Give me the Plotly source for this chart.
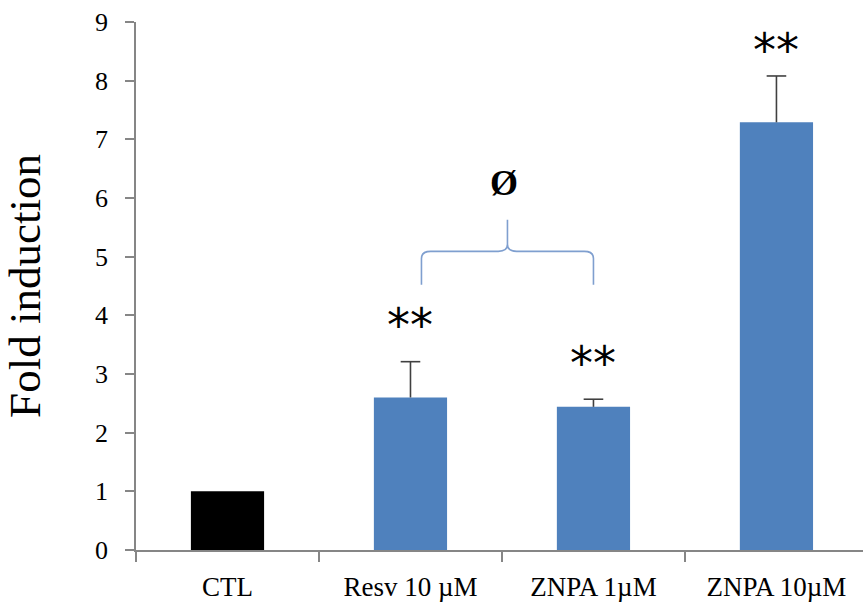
import plotly.graph_objects as go

# Treatment groups and measured fold induction (mean and upper SD)
categories = ["CTL", "Resv 10 µM", "ZNPA 1µM", "ZNPA 10µM"]
fold_induction = [1.0, 2.60, 2.44, 7.29]
error_upper = [0.0, 0.61, 0.13, 0.79]
significance = ["", "**", "**", "**"]

y_ticks = [0, 1, 2, 3, 4, 5, 6, 7, 8, 9]

# Layout helpers (heights where the significance marks sit)
sig_y = [None, 3.84, 3.19, 8.53]
bar_colors = ["#000000", "#4F81BD", "#4F81BD", "#4F81BD"]

serif = "Liberation Serif, Times New Roman, serif"
err_color = "#404040"

fig = go.Figure()
fig.add_trace(go.Bar(
    x=categories,
    y=fold_induction,
    marker=dict(color=bar_colors, line=dict(width=0)),
    width=0.4,
    showlegend=False,
    hoverinfo="x+y",
))

# Upper-only error bars: stem from bar top, cap at mean + SD
stem_x, stem_y, cap_x, cap_y = [], [], [], []
for cat, val, err in zip(categories, fold_induction, error_upper):
    if err > 0:
        stem_x += [cat, cat, None]
        stem_y += [val, val + err, None]
        cap_x.append(cat)
        cap_y.append(val + err)

fig.add_trace(go.Scatter(
    x=stem_x, y=stem_y, mode="lines",
    line=dict(color=err_color, width=1.6),
    showlegend=False, hoverinfo="skip",
))
fig.add_trace(go.Scatter(
    x=cap_x, y=cap_y, mode="markers",
    marker=dict(symbol="line-ew", size=14, line=dict(color=err_color, width=1.6)),
    showlegend=False, hoverinfo="skip",
))

# Significance asterisks above treated groups
for i, (label, yy) in enumerate(zip(significance, sig_y)):
    if label:
        fig.add_annotation(
            x=i, y=yy, text=label, showarrow=False,
            font=dict(family="DejaVu Sans", size=46, color="#000000"),
            yanchor="middle", xanchor="center",
        )

# Curly bracket comparing Resv 10 µM with ZNPA 1µM
i_left, i_right = 1, 2
xl = i_left + 0.06
xr = i_right
xm = (xl + xr) / 2
y_foot = 4.52
y_bar = 5.09
y_tip = 5.63
c = 0.05
path = (
    f"M {xl},{y_foot} L {xl},{y_bar - 0.12} "
    f"Q {xl},{y_bar} {xl + c},{y_bar} "
    f"L {xm - c},{y_bar} Q {xm},{y_bar} {xm},{y_bar + 0.12} "
    f"L {xm},{y_tip} M {xm},{y_bar + 0.12} "
    f"Q {xm},{y_bar} {xm + c},{y_bar} "
    f"L {xr - c},{y_bar} Q {xr},{y_bar} {xr},{y_bar - 0.12} "
    f"L {xr},{y_foot}"
)
fig.add_shape(type="path", path=path, xref="x", yref="y",
              line=dict(color="#7F9FCF", width=1.6))

fig.add_annotation(
    x=xm - 0.02, y=6.26, text="<b>Ø</b>", showarrow=False,
    font=dict(family=serif, size=36, color="#000000"),
    yanchor="middle", xanchor="center",
)

fig.update_layout(
    width=863, height=610,
    margin=dict(l=136, r=0, t=22, b=60),
    paper_bgcolor="white", plot_bgcolor="white",
    bargap=0.6,
    font=dict(family=serif, color="#000000"),
)

fig.update_xaxes(
    type="category",
    range=[-0.5, 3.473],
    showline=True, linecolor="#868686", linewidth=1.5,
    ticks="outside", tickson="boundaries", ticklen=10,
    tickcolor="#868686", tickwidth=1.5,
    tickfont=dict(family=serif, size=27, color="#000000"),
    ticklabelstandoff=12,
    showgrid=False, zeroline=False,
)
fig.update_yaxes(
    range=[0, 9],
    tickvals=y_ticks,
    showline=True, linecolor="#868686", linewidth=1.5,
    ticks="outside", ticklen=9, tickcolor="#868686", tickwidth=1.5,
    tickfont=dict(family=serif, size=26, color="#000000"),
    ticklabelstandoff=12,
    showgrid=False, zeroline=False,
    title=dict(text="Fold induction", font=dict(family=serif, size=45, color="#000000"),
               standoff=40),
)

fig.write_html("out.html")
